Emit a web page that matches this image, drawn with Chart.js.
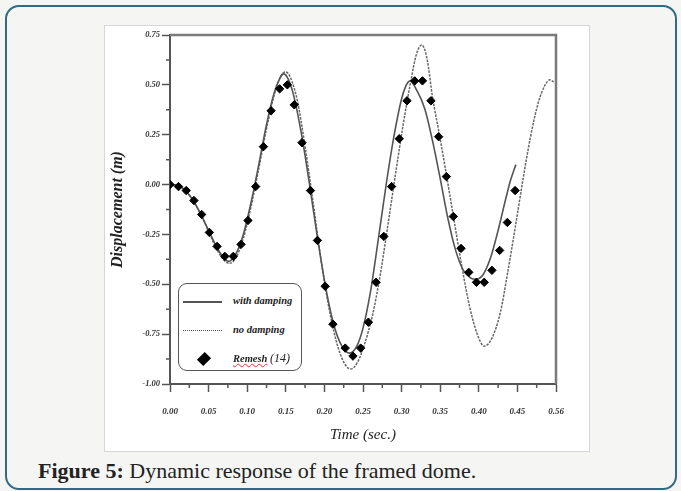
<!DOCTYPE html>
<html>
<head>
<meta charset="utf-8">
<script src="https://cdn.jsdelivr.net/npm/chart.js@4.4.1/dist/chart.umd.min.js"></script>
<style>
  html, body { margin: 0; padding: 0; }
  body { width: 681px; height: 491px; overflow: hidden; background: #f5f5f3; position: relative; font-family: "Liberation Serif", serif; }
  .card { position: absolute; left: 5px; top: 5px; width: 668px; height: 481px; border: 2px solid #2f6b82; border-radius: 14px; }
  .fig { position: absolute; left: 104px; top: 25px; width: 486px; height: 427px; background: #fff; border: 1px solid #d6d6d6; box-sizing: border-box; }
  #chart { position: absolute; left: 104px; top: 25px; }
  .caption { position: absolute; left: 38px; top: 460px; font-size: 22px; line-height: 1; color: #222; white-space: nowrap; }
  .legend { position: absolute; left: 178px; top: 283px; width: 124px; height: 88px; border: 1.5px solid #555; border-radius: 9px; background: #fff; box-sizing: border-box; }
  .lg-line { position: absolute; left: 183px; width: 39px; }
  .lg-text { position: absolute; left: 233px; font: italic bold 10.5px "Liberation Serif", serif; color: #222; white-space: nowrap; line-height: 1; }
  .lg-diam { position: absolute; left: 199px; top: 354px; width: 10px; height: 10px; background: #000; transform: rotate(45deg) scale(0.9, 1.1); }
  .wavy { text-decoration: underline wavy #e03030; text-decoration-thickness: 1px; }
</style>
</head>
<body>
<div class="card"></div>
<div class="fig"></div>
<canvas id="chart" width="486" height="427"></canvas>

<div class="legend"></div>
<div class="lg-line" style="top:301px;border-top:2px solid #555;"></div>
<div class="lg-text" style="top:296px;">with damping</div>
<div class="lg-line" style="top:330px;border-top:1px dotted #555;"></div>
<div class="lg-text" style="top:325px;">no damping</div>
<div class="lg-diam"></div>
<div class="lg-text" style="top:352px;"><span class="wavy">Remesh</span> <span style="font-weight:normal;font-size:12px;">(14)</span></div>

<div class="caption"><b>Figure 5:</b> Dynamic response of the framed dome.</div>

<script>
// with damping (solid)
const dampT = [0, 0.01, 0.02, 0.03, 0.04, 0.05, 0.06, 0.07, 0.076, 0.085, 0.095, 0.105, 0.115, 0.125, 0.135,
  0.142, 0.147, 0.153, 0.16, 0.17, 0.18, 0.19, 0.2, 0.21, 0.22, 0.232, 0.242, 0.25, 0.26,
  0.27, 0.28, 0.29, 0.3, 0.305, 0.311, 0.32, 0.33, 0.34, 0.35, 0.36, 0.37, 0.38, 0.39,
  0.396, 0.405, 0.415, 0.425, 0.435, 0.441, 0.448];
const dampD = [0, -0.005, -0.03, -0.08, -0.15, -0.23, -0.31, -0.37, -0.385, -0.35, -0.25, -0.09, 0.10, 0.30, 0.46,
  0.53, 0.555, 0.53, 0.45, 0.26, 0.02, -0.24, -0.48, -0.67, -0.79, -0.845, -0.81, -0.72, -0.53,
  -0.27, 0.0, 0.24, 0.43, 0.49, 0.52, 0.47, 0.38, 0.22, 0.03, -0.17, -0.33, -0.43, -0.47,
  -0.475, -0.455, -0.37, -0.23, -0.07, 0.02, 0.10];

// no damping (dotted)
const freeT = [0, 0.01, 0.02, 0.03, 0.04, 0.05, 0.06, 0.07, 0.077, 0.085, 0.095, 0.105, 0.115, 0.125, 0.135,
  0.143, 0.149, 0.155, 0.165, 0.175, 0.185, 0.195, 0.205, 0.215, 0.225, 0.234, 0.243, 0.252, 0.262,
  0.272, 0.282, 0.292, 0.302, 0.312, 0.319, 0.326, 0.333, 0.340, 0.349, 0.358, 0.368, 0.378, 0.388,
  0.398, 0.407, 0.417, 0.428, 0.437, 0.447, 0.457, 0.467, 0.477, 0.486, 0.492, 0.497];
const freeD = [0, -0.005, -0.03, -0.08, -0.15, -0.235, -0.32, -0.38, -0.395, -0.37, -0.27, -0.11, 0.08, 0.28, 0.45,
  0.54, 0.565, 0.545, 0.42, 0.19, -0.08, -0.36, -0.60, -0.78, -0.89, -0.925, -0.89, -0.80, -0.66,
  -0.46, -0.21, 0.05, 0.30, 0.52, 0.65, 0.70, 0.63, 0.44, 0.25, 0.05, -0.18, -0.41, -0.61,
  -0.75, -0.81, -0.77, -0.64, -0.45, -0.22, 0.02, 0.24, 0.41, 0.50, 0.525, 0.515];

// Remesh (14) markers
const remeshT = [0, 0.011, 0.021, 0.031, 0.041, 0.051, 0.061, 0.071, 0.082, 0.092, 0.101, 0.111, 0.121, 0.131,
  0.142, 0.152, 0.161, 0.171, 0.182, 0.191, 0.201, 0.211, 0.227, 0.237, 0.247, 0.257, 0.267,
  0.277, 0.287, 0.297, 0.307, 0.317, 0.327, 0.338, 0.348, 0.358, 0.367, 0.377, 0.387, 0.397,
  0.407, 0.417, 0.427, 0.437, 0.447];
const remeshD = [0, -0.01, -0.03, -0.08, -0.15, -0.24, -0.31, -0.36, -0.36, -0.30, -0.18, -0.01, 0.19, 0.37,
  0.48, 0.50, 0.40, 0.21, -0.03, -0.28, -0.51, -0.70, -0.82, -0.86, -0.82, -0.69, -0.49,
  -0.26, -0.01, 0.23, 0.42, 0.52, 0.52, 0.42, 0.24, 0.04, -0.16, -0.32, -0.44, -0.49,
  -0.49, -0.43, -0.33, -0.19, -0.03];

const xTickLabels = ['0.00', '0.05', '0.10', '0.15', '0.20', '0.25', '0.30', '0.35', '0.40', '0.45', '0.56'];
const yTickLabels = ['-1.00', '-0.75', '-0.50', '-0.25', '0.00', '0.25', '0.50', '0.75'];

const pts = (t, d) => t.map((v, i) => ({ x: v, y: d[i] }));

// minor ticks + top/right frame
const frameAndMinor = {
  id: 'frameAndMinor',
  afterDraw(chart) {
    const { ctx, chartArea: a, scales: { x, y } } = chart;
    ctx.save();
    ctx.strokeStyle = '#555';
    ctx.lineWidth = 1.5;
    ctx.beginPath();
    for (let i = 0; i < 10; i++) {
      const px = x.getPixelForValue(0.025 + i * 0.05);
      ctx.moveTo(px, a.bottom);
      ctx.lineTo(px, a.bottom + 4);
    }
    for (let i = 0; i < 7; i++) {
      const py = y.getPixelForValue(-0.875 + i * 0.25);
      ctx.moveTo(a.left, py);
      ctx.lineTo(a.left - 4, py);
    }
    ctx.stroke();
    ctx.strokeStyle = '#7a7a7a';
    ctx.lineWidth = 2.5;
    ctx.beginPath();
    ctx.moveTo(a.left, a.top);
    ctx.lineTo(a.right, a.top);
    ctx.lineTo(a.right, a.bottom);
    ctx.stroke();
    ctx.restore();
  }
};

const tickFont = { family: 'Liberation Serif', size: 8.5, style: 'italic', weight: 'bold' };

new Chart(document.getElementById('chart'), {
  type: 'line',
  data: {
    datasets: [
      {
        label: 'Remesh (14)',
        data: pts(remeshT, remeshD),
        showLine: false,
        pointStyle: 'rectRot',
        pointRadius: 4.2,
        backgroundColor: '#000',
        borderColor: '#000',
        borderWidth: 1
      },
      {
        label: 'with damping',
        data: pts(dampT, dampD),
        borderColor: '#555',
        borderWidth: 1.6,
        pointRadius: 0,
        cubicInterpolationMode: 'monotone'
      },
      {
        label: 'no damping',
        data: pts(freeT, freeD),
        borderColor: '#666',
        borderWidth: 1.5,
        borderDash: [2.5, 1.2],
        pointRadius: 0,
        cubicInterpolationMode: 'monotone'
      }
    ]
  },
  options: {
    responsive: false,
    animation: false,
    layout: { padding: { left: 0, top: 10, right: 34, bottom: 0 } },
    plugins: { legend: { display: false }, tooltip: { enabled: false } },
    scales: {
      x: {
        type: 'linear',
        min: 0,
        max: 0.5,
        afterFit: s => { s.height = 68; },
        ticks: {
          stepSize: 0.05,
          padding: 14,
          color: '#333',
          font: { family: 'Liberation Serif', size: 9, style: 'italic', weight: 'bold' },
          callback: (v, i) => xTickLabels[i]
        },
        grid: { drawOnChartArea: false, tickLength: 8, tickColor: '#555', tickWidth: 1.5 },
        border: { color: '#555', width: 2 },
        title: {
          display: true,
          text: 'Time (sec.)',
          color: '#222',
          font: { family: 'Liberation Serif', size: 15, style: 'italic' },
          padding: { top: 0, bottom: 8 }
        }
      },
      y: {
        min: -1,
        max: 0.75,
        afterFit: s => { s.width = 66; },
        ticks: {
          stepSize: 0.25,
          padding: 2,
          color: '#333',
          font: tickFont,
          callback: (v, i) => yTickLabels[i]
        },
        grid: { drawOnChartArea: false, tickLength: 8, tickColor: '#555', tickWidth: 1.5 },
        border: { color: '#555', width: 2 },
        title: {
          display: true,
          text: 'Displacement (m)',
          color: '#222',
          font: { family: 'Liberation Serif', size: 16, style: 'italic', weight: 'bold' },
          padding: { top: 4, bottom: 4 }
        }
      }
    }
  },
  plugins: [frameAndMinor]
});
</script>
</body>
</html>
